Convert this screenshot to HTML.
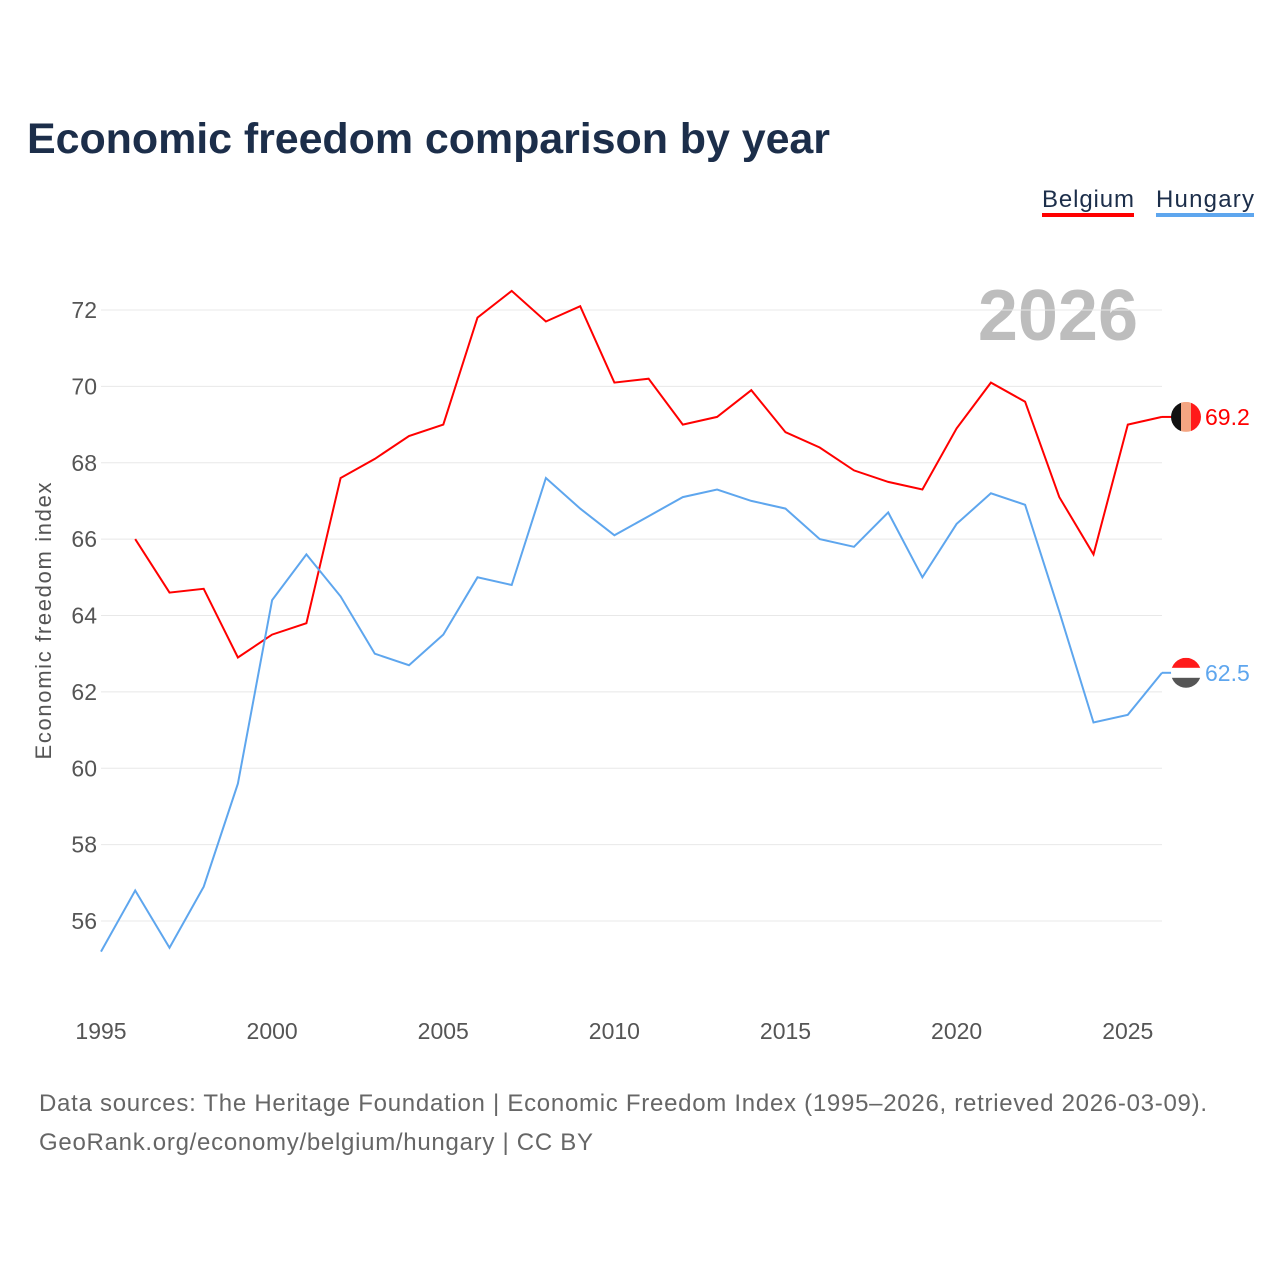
<!DOCTYPE html>
<html><head><meta charset="utf-8"><style>
body{margin:0;background:#fff;font-family:"Liberation Sans",sans-serif;}
svg text{font-family:"Liberation Sans",sans-serif;}
</style></head><body>
<svg width="1280" height="1280" viewBox="0 0 1280 1280">
<rect width="1280" height="1280" fill="#fff"/>
<text x="27" y="153" font-size="43" font-weight="bold" fill="#1c2e4a" textLength="803">Economic freedom comparison by year</text>
<g><text x="1042" y="207" font-size="24" fill="#1c2e4a" textLength="92">Belgium</text><rect x="1042" y="213" width="92" height="4" fill="#ff0000"/></g>
<g><text x="1156" y="207" font-size="24" fill="#1c2e4a" textLength="98">Hungary</text><rect x="1156" y="213" width="98" height="4" fill="#5ea6ee"/></g>
<text x="1138" y="340" font-size="72" font-weight="bold" fill="#bdbdbd" text-anchor="end">2026</text>
<g id="grid"></g><g id="yticks"></g><g id="xticks"></g><g id="lines"></g>
<text transform="translate(51,621) rotate(-90)" font-size="22" fill="#555" text-anchor="middle" textLength="277">Economic freedom index</text>
<text x="39" y="1111" font-size="24" fill="#666" textLength="1168">Data sources: The Heritage Foundation | Economic Freedom Index (1995–2026, retrieved 2026-03-09).</text>
<text x="39" y="1150" font-size="24" fill="#666" textLength="554">GeoRank.org/economy/belgium/hungary | CC BY</text>
</svg>
<script>
const years=[1995,1996,1997,1998,1999,2000,2001,2002,2003,2004,2005,2006,2007,2008,2009,2010,2011,2012,2013,2014,2015,2016,2017,2018,2019,2020,2021,2022,2023,2024,2025,2026];
const belgium=[null,66.0,64.6,64.7,62.9,63.5,63.8,67.6,68.1,68.7,69.0,71.8,72.5,71.7,72.1,70.1,70.2,69.0,69.2,69.9,68.8,68.4,67.8,67.5,67.3,68.9,70.1,69.6,67.1,65.6,69.0,69.2];
const hungary=[55.2,56.8,55.3,56.9,59.6,64.4,65.6,64.5,63.0,62.7,63.5,65.0,64.8,67.6,66.8,66.1,66.6,67.1,67.3,67.0,66.8,66.0,65.8,66.7,65.0,66.4,67.2,66.9,64.1,61.2,61.4,62.5];
const yTicks=[56,58,60,62,64,66,68,70,72];
const xTicks=[1995,2000,2005,2010,2015,2020,2025];
const NS="http://www.w3.org/2000/svg";
const x=v=>101+(v-1995)*(1162-101)/31;
const y=v=>310+(72-v)*38.19;
function mk(t,a,p){const e=document.createElementNS(NS,t);for(const k in a)e.setAttribute(k,a[k]);document.getElementById(p).appendChild(e);return e;}
yTicks.forEach(v=>{
 const l=mk('line',{x1:101,x2:1162,y1:y(v),y2:y(v),stroke:'#e8e8e8','stroke-width':1},'grid');
 
 
 const t=mk('text',{x:97,y:y(v)+8,'font-size':23,fill:'#555','text-anchor':'end'},'yticks');t.textContent=v;
 
 
});
xTicks.forEach(v=>{
 const t=mk('text',{x:x(v),y:1039,'font-size':23,fill:'#555','text-anchor':'middle'},'xticks');t.textContent=v;
 
 
});
function series(vals,color,name){
 let d='';vals.forEach((v,i)=>{if(v==null)return;d+=(d?'L':'M')+x(years[i]).toFixed(1)+','+y(v).toFixed(1);});
 const p=mk('path',{d:d,fill:'none',stroke:color,'stroke-width':2},'lines');
 
 
 const last=vals[vals.length-1],cy=y(last);
 const t=mk('text',{x:1205,y:cy+8,'font-size':23,fill:color},'lines');t.textContent=last.toFixed(1);
 
 
 mk('line',{x1:1162,x2:1172,y1:cy,y2:cy,stroke:color,'stroke-width':2},'lines');
 return cy;
}
const cb=series(belgium,'#ff0000','belgium');
const ch=series(hungary,'#5ea6ee','hungary');
const g1=mk('g',{},'lines');


const cp1=mk('clipPath',{id:'c1'},'lines');const c1=document.createElementNS(NS,'circle');c1.setAttribute('cx',1186);c1.setAttribute('cy',cb);c1.setAttribute('r',15);cp1.appendChild(c1);
[['#111',1171],['#f4a582',1181],['#ff1a1a',1191]].forEach(([c,xx])=>{const r=document.createElementNS(NS,'rect');r.setAttribute('x',xx);r.setAttribute('y',cb-15);r.setAttribute('width',10.5);r.setAttribute('height',30);r.setAttribute('fill',c);r.setAttribute('clip-path','url(#c1)');g1.appendChild(r);});
const g2=mk('g',{},'lines');


const cp=mk('clipPath',{id:'c2'},'lines');const cc=document.createElementNS(NS,'circle');cc.setAttribute('cx',1186);cc.setAttribute('cy',ch);cc.setAttribute('r',15);cp.appendChild(cc);
[['#ff1a1a',ch-15],['#fff',ch-5],['#555',ch+5]].forEach(([c,yy])=>{const r=document.createElementNS(NS,'rect');r.setAttribute('x',1171);r.setAttribute('y',yy);r.setAttribute('width',30);r.setAttribute('height',10.5);r.setAttribute('fill',c);r.setAttribute('clip-path','url(#c2)');g2.appendChild(r);});
</script>
</body></html>
